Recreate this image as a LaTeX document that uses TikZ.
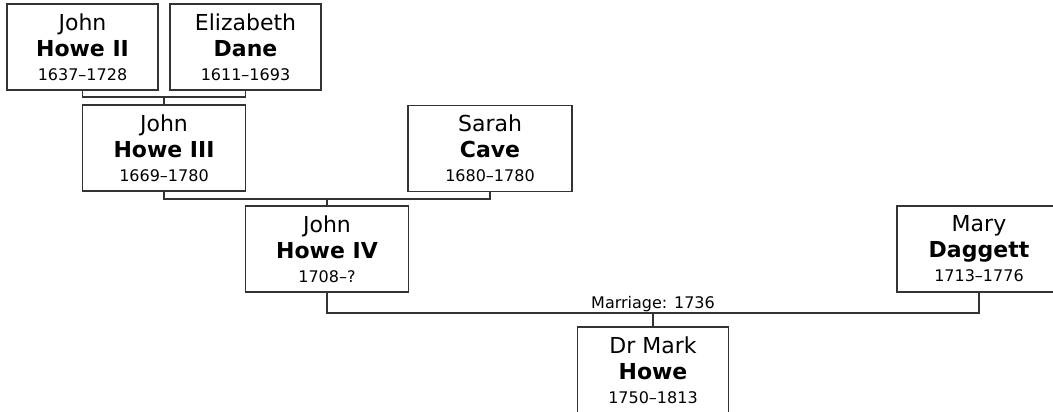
\documentclass[tikz,border=0pt]{standalone}
\usepackage{fontspec}
\setmainfont{DejaVu Sans}
\definecolor{linegray}{HTML}{333333}
\newcommand{\yrs}[1]{{\fontsize{16}{20}\selectfont #1}}
\tikzset{
	person/.style={draw=linegray, line width=1.3pt, minimum width=#1, minimum height=86pt, inner sep=0pt, align=center, font=\fontsize{22}{26}\selectfont},
	famline/.style={draw=linegray, line width=1.3pt},
}

\begin{document}
\begin{tikzpicture}[x=1pt, y=-1pt]
	\useasboundingbox (0,0) rectangle (1053,412);
	% first generation
	\node[person=151pt] (howeII) at (82.5,47) {John\\\textbf{Howe II}\\[-2pt]\yrs{1637--1728}};
	\node[person=151pt] (daneE) at (245.5,47) {Elizabeth\\\textbf{Dane}\\[-2pt]\yrs{1611--1693}};
	\coordinate (pairI) at (164,97);
	\draw[famline] (howeII.south) |- (pairI) -| (daneE.south);
	% second generation
	\node[person=163pt] (howeIII) at (164,148) {John\\\textbf{Howe III}\\[-2pt]\yrs{1669--1780}};
	\node[person=164pt] (caveS) at (490,148.5) {Sarah\\\textbf{Cave}\\[-2pt]\yrs{1680--1780}};
	\draw[famline] (pairI) -- (howeIII.north);
	\coordinate (pairII) at (327,199);
	\draw[famline] (howeIII.south) |- (pairII) -| (caveS.south);
	% third generation
	\node[person=163pt] (howeIV) at (327,249) {John\\\textbf{Howe IV}\\[-2pt]\yrs{1708--?}};
	\node[person=164pt] (daggettM) at (979,249) {Mary\\\textbf{Daggett}\\[-2pt]\yrs{1713--1776}};
	\draw[famline] (pairII) -- (howeIV.north);
	\coordinate (pairIII) at (653,313);
	\draw[famline] (howeIV.south) |- (pairIII) -| (daggettM.south);
	\node[font=\fontsize{16}{20}\selectfont, anchor=south, inner sep=0.5pt] (wedlabel) at (pairIII) {Marriage: 1736};
	% child
	\node[person=151pt] (howeM) at (653,370) {Dr Mark\\\textbf{Howe}\\[-2pt]\yrs{1750--1813}};
	\draw[famline] (pairIII) -- (howeM.north);
\end{tikzpicture}
\end{document}
